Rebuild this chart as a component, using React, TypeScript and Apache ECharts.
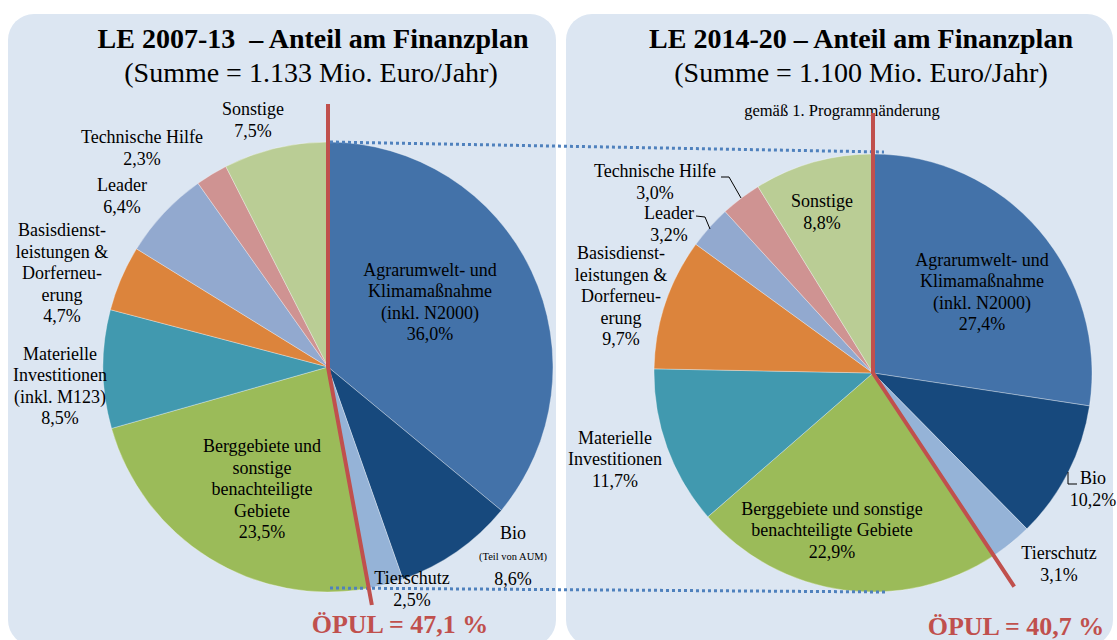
import React, { useEffect, useRef } from "react";
import * as echarts from "echarts";

// ---------- data ----------
const categories = [
  "Agrarumwelt- und Klimamaßnahme",
  "Bio",
  "Tierschutz",
  "Berggebiete und sonstige benachteiligte Gebiete",
  "Materielle Investitionen",
  "Basisdienstleistungen & Dorferneuerung",
  "Leader",
  "Technische Hilfe",
  "Sonstige",
];
const values2007 = [36.0, 8.6, 2.5, 23.5, 8.5, 4.7, 6.4, 2.3, 7.5];
const values2014 = [27.4, 10.2, 3.1, 22.9, 11.7, 9.7, 3.2, 3.0, 8.8];
const labels2007 = [
  "Agrarumwelt- und\nKlimamaßnahme\n(inkl. N2000)",
  "Bio\n{s|(Teil von AUM)}",
  "Tierschutz",
  "Berggebiete und\nsonstige\nbenachteiligte\nGebiete",
  "Materielle\nInvestitionen\n(inkl. M123)",
  "Basisdienst-\nleistungen &\nDorferneu-\nerung",
  "Leader",
  "Technische Hilfe",
  "Sonstige",
];
const labels2014 = [
  "Agrarumwelt- und\nKlimamaßnahme\n(inkl. N2000)",
  "Bio",
  "Tierschutz",
  "Berggebiete und sonstige\nbenachteiligte Gebiete",
  "Materielle\nInvestitionen",
  "Basisdienst-\nleistungen &\nDorferneu-\nerung",
  "Leader",
  "Technische Hilfe",
  "Sonstige",
];
const opulCount = 3; // Agrarumwelt + Bio + Tierschutz
const title2007 = "LE 2007-13  – Anteil am Finanzplan";
const sub2007 = "(Summe = 1.133 Mio. Euro/Jahr)";
const title2014 = "LE 2014-20 – Anteil am Finanzplan";
const sub2014 = "(Summe = 1.100 Mio. Euro/Jahr)";
const note2014 = "gemäß 1. Programmänderung";

// ---------- styles / layout ----------
const colors = [
  "#4372a9",
  "#17497d",
  "#95b3d7",
  "#9bbb59",
  "#4199af",
  "#dc843c",
  "#92a9cf",
  "#cf9392",
  "#bacd95",
];
const FONT = '"Liberation Serif", "Times New Roman", serif';
const RED = "#c0504d";
const BLUE_DOT = "#4f81bd";
const PANEL = "#dce6f2";

const pieL = { cx: 328, cy: 367, r: 225, top: 104, len: 242 };
const pieR = { cx: 873, cy: 373, r: 219, top: 113, len: 256 };

const labelPos2007: [number, number][] = [
  [430, 302],
  [513, 556],
  [412, 589],
  [262, 489],
  [60, 386],
  [62, 273],
  [122, 196],
  [142, 148],
  [253, 120],
];
const labelPos2014: [number, number][] = [
  [982, 292],
  [1093, 489],
  [1059, 564],
  [832, 530],
  [615, 459],
  [621, 296],
  [669, 224],
  [655, 182],
  [822, 212],
];

const fmt = (v: number) => v.toFixed(1).replace(".", ",");

function pieSeries(values: number[], labels: string[], geo: any, pos: [number, number][]) {
  return {
    type: "pie",
    center: [geo.cx, geo.cy],
    radius: geo.r,
    startAngle: 90,
    clockwise: true,
    avoidLabelOverlap: false,
    silent: true,
    data: values.map((v, i) => ({
      name: categories[i],
      value: v,
      itemStyle: { color: colors[i] },
    })),
    itemStyle: { borderColor: "rgba(255,255,255,0.55)", borderWidth: 0.6 },
    label: {
      show: true,
      position: "inside",
      formatter: (p: any) => `${labels[p.dataIndex]}\n${fmt(p.value)}%`,
      fontFamily: FONT,
      fontSize: 18,
      lineHeight: 21.5,
      color: "#000",
      align: "center",
      verticalAlign: "middle",
      rich: {
        s: { fontFamily: FONT, fontSize: 10.5, lineHeight: 24, color: "#000" },
      },
    },
    labelLine: { show: false },
    labelLayout: (p: any) => ({
      x: pos[p.dataIndex][0],
      y: pos[p.dataIndex][1],
      align: "center",
      verticalAlign: "middle",
    }),
  };
}

function opulGraphics(values: number[], geo: any, textX: number, textY: number) {
  const total = values.reduce((a, b) => a + b, 0);
  const share = values.slice(0, opulCount).reduce((a, b) => a + b, 0);
  const ang = (share / total) * Math.PI * 2;
  const ex = geo.cx + Math.sin(ang) * geo.len;
  const ey = geo.cy - Math.cos(ang) * geo.len;
  return [
    {
      type: "polyline",
      z: 100,
      shape: {
        points: [
          [geo.cx, geo.top],
          [geo.cx, geo.cy],
          [ex, ey],
        ],
      },
      style: { stroke: RED, lineWidth: 4, fill: null, lineJoin: "miter" },
    },
    {
      type: "text",
      z: 100,
      x: textX,
      y: textY,
      style: {
        text: `ÖPUL = ${fmt((share / total) * 100)} %`,
        font: `bold 26px ${FONT}`,
        fill: RED,
        textAlign: "center",
        textVerticalAlign: "middle",
      },
    },
  ];
}

function textEl(text: string, x: number, y: number, font: string) {
  return {
    type: "text",
    z: 100,
    x,
    y,
    style: { text, font, fill: "#000", textAlign: "center", textVerticalAlign: "middle" },
  };
}

function line(pts: number[][], stroke: string, width: number, dash?: number[]) {
  return {
    type: "polyline",
    z: 100,
    shape: { points: pts },
    style: { stroke, lineWidth: width, fill: null, lineDash: dash },
  };
}

export default function App() {
  const ref = useRef<HTMLDivElement>(null);
  useEffect(() => {
    if (!ref.current) return;
    const chart = echarts.init(ref.current, undefined, { renderer: "svg" });
    const option: any = {
      animation: false,
      backgroundColor: "#ffffff",
      graphic: {
        elements: [
          { type: "rect", z: -10, shape: { x: 8, y: 14, width: 548, height: 632, r: 26 }, style: { fill: PANEL } },
          { type: "rect", z: -10, shape: { x: 566, y: 14, width: 547, height: 632, r: 26 }, style: { fill: PANEL } },
          textEl(title2007, 313, 38, `bold 28px ${FONT}`),
          textEl(sub2007, 311, 72, `28px ${FONT}`),
          textEl(title2014, 861, 38, `bold 28px ${FONT}`),
          textEl(sub2014, 861, 72, `28px ${FONT}`),
          textEl(note2014, 842, 110, `16.5px ${FONT}`),
          line([[330, 142], [884, 152]], BLUE_DOT, 3, [3, 3]),
          line([[330, 588], [887, 592]], BLUE_DOT, 3, [3, 3]),
          line([[721, 177], [729, 177], [741, 198]], "#000", 1),
          line([[696, 216], [705, 217], [710, 229]], "#000", 1),
          line([[1068, 472], [1068, 484], [1077, 484]], "#000", 1),
          ...opulGraphics(values2007, pieL, 400, 624),
          ...opulGraphics(values2014, pieR, 1016, 626),
        ],
      },
      series: [
        pieSeries(values2007, labels2007, pieL, labelPos2007),
        pieSeries(values2014, labels2014, pieR, labelPos2014),
      ],
    };
    chart.setOption(option);
    return () => chart.dispose();
  }, []);
  return (
    <div
      ref={ref}
      style={{ position: "absolute", left: 0, top: 0, width: 1117, height: 640 }}
    />
  );
}
